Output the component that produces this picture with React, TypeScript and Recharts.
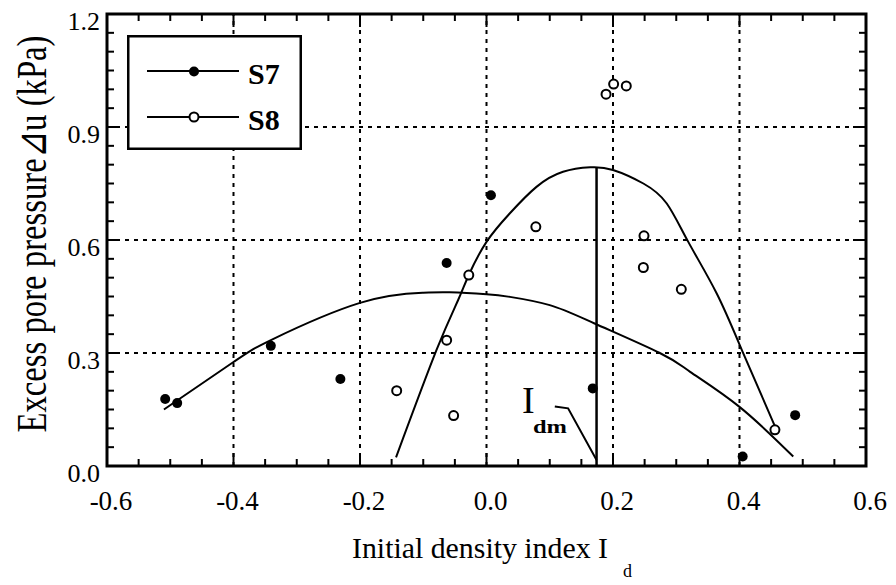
import {
  ComposedChart,
  Scatter,
  Line,
  XAxis,
  YAxis,
  ReferenceLine,
  ReferenceArea,
  ReferenceDot,
  Legend,
} from 'recharts'

// tick values (minor every 0.05, labelled majors picked in the tick renderers)
const xTicks = [
  -0.6, -0.55, -0.5, -0.45, -0.4, -0.35, -0.3, -0.25, -0.2, -0.15, -0.1, -0.05, 0, 0.05, 0.1,
  0.15, 0.2, 0.25, 0.3, 0.35, 0.4, 0.45, 0.5, 0.55, 0.6,
]
const yTicks = [
  0, 0.05, 0.1, 0.15, 0.2, 0.25, 0.3, 0.35, 0.4, 0.45, 0.5, 0.55, 0.6, 0.65, 0.7, 0.75, 0.8,
  0.85, 0.9, 0.95, 1.0, 1.05, 1.1, 1.15, 1.2,
]
const gridX = [-0.4, -0.2, 0, 0.2, 0.4]
const gridY = [0.3, 0.6, 0.9]

// S7 measured points
const s7X = [-0.508, -0.489, -0.341, -0.231, -0.063, 0.007, 0.168, 0.405, 0.488]
const s7Y = [0.178, 0.167, 0.319, 0.231, 0.539, 0.719, 0.206, 0.025, 0.135]

// S8 measured points
const s8X = [-0.142, -0.052, -0.063, -0.028, 0.078, 0.189, 0.201, 0.221, 0.249, 0.248, 0.308, 0.456]
const s8Y = [0.2, 0.134, 0.334, 0.507, 0.635, 0.987, 1.014, 1.009, 0.611, 0.527, 0.469, 0.096]

// fitted curves
const s7FitX = [-0.51, -0.4, -0.34, -0.2, -0.1, -0.058, 0.0, 0.037, 0.1, 0.17, 0.274, 0.322, 0.4, 0.485]
const s7FitY = [0.15, 0.276, 0.335, 0.433, 0.46, 0.461, 0.456, 0.449, 0.427, 0.379, 0.3, 0.25, 0.157, 0.025]

const s8FitX = [
  -0.143, -0.079, -0.045, -0.028, 0.0, 0.037, 0.079, 0.121, 0.164, 0.2, 0.248, 0.285, 0.319,
  0.364, 0.406, 0.46,
]
const s8FitY = [
  0.023, 0.308, 0.44, 0.507, 0.595, 0.671, 0.741, 0.781, 0.793, 0.786, 0.75, 0.697, 0.595,
  0.458, 0.299, 0.09,
]

// I_dm marker line and its leader
const idmX = [0.174, 0.174]
const idmY = [0, 0.793]
const leaderX = [0.108, 0.129, 0.174]
const leaderY = [0.158, 0.153, 0.016]

const zip = (xs: number[], ys: number[]) => xs.map((x, i) => ({ x, y: ys[i] }))

const s7Points = zip(s7X, s7Y)
const s8Points = zip(s8X, s8Y)
const s7Fit = zip(s7FitX, s7FitY)
const s8Fit = zip(s8FitX, s8FitY)
const idmLine = zip(idmX, idmY)
const leaderLine = zip(leaderX, leaderY)

const FONT = '"Liberation Serif", "Times New Roman", serif'
const PLOT_W = 759
const PLOT_H = 452

const isMajor = (v: number, step: number) => Math.abs(v / step - Math.round(v / step)) < 1e-6

function XTick(props: any) {
  const { x, y, payload } = props
  const v = payload.value as number
  const major = isMajor(v, 0.2)
  const len = major ? 13 : 7
  return (
    <g>
      <line x1={x} x2={x} y1={y} y2={y - len} stroke="#000" strokeWidth={2} />
      <line x1={x} x2={x} y1={y - PLOT_H} y2={y - PLOT_H + len} stroke="#000" strokeWidth={2} />
      {major && (
        <text x={x + 4} y={y + 44} textAnchor="middle" fontSize={27} fontFamily={FONT} fill="#000">
          {v.toFixed(1)}
        </text>
      )}
    </g>
  )
}

function YTick(props: any) {
  const { x, y, payload } = props
  const v = payload.value as number
  const major = isMajor(v, 0.3)
  const len = major ? 13 : 7
  return (
    <g>
      <line x1={x} x2={x + len} y1={y} y2={y} stroke="#000" strokeWidth={2} />
      <line x1={x + PLOT_W} x2={x + PLOT_W - len} y1={y} y2={y} stroke="#000" strokeWidth={2} />
      {major && (
        <text x={x - 7} y={y + 16} textAnchor="end" fontSize={26} fontFamily={FONT} fill="#000">
          {v.toFixed(1)}
        </text>
      )}
    </g>
  )
}

function XLabel() {
  return (
    <g fontFamily={FONT} fill="#000">
      <text x={352} y={558} fontSize={30} textLength={256} lengthAdjust="spacingAndGlyphs">
        Initial density index I
      </text>
      <text x={623} y={577} fontSize={18}>
        d
      </text>
    </g>
  )
}

function YLabel() {
  return (
    <text
      transform="translate(46, 234) rotate(-90) scale(1, 1.3)"
      textAnchor="middle"
      fontSize={33}
      fontFamily={FONT}
      fill="#000"
      textLength={397}
      lengthAdjust="spacingAndGlyphs"
    >
      Excess pore pressure⊿u (kPa)
    </text>
  )
}

function LegendBox() {
  return (
    <svg width={175} height={115} style={{ display: 'block' }}>
      <rect x={1.25} y={1.25} width={172.5} height={112.5} fill="#fff" stroke="#000" strokeWidth={2.5} />
      <line x1={20} x2={112} y1={36} y2={36} stroke="#000" strokeWidth={2} />
      <circle cx={67} cy={36.5} r={5} fill="#000" />
      <text x={121} y={49} fontSize={30} fontWeight="bold" fontFamily={FONT}>
        S7
      </text>
      <line x1={20} x2={112} y1={82} y2={82} stroke="#000" strokeWidth={2} />
      <circle cx={67} cy={82} r={4.5} fill="#fff" stroke="#000" strokeWidth={2} />
      <text x={121} y={95} fontSize={30} fontWeight="bold" fontFamily={FONT}>
        S8
      </text>
    </svg>
  )
}

function IdmLabel(props: any) {
  const { cx, cy } = props
  return (
    <g fontFamily={FONT} fill="#000">
      <text x={cx} y={cy} fontSize={38}>
        I
      </text>
      <text x={cx + 11} y={cy + 20} fontSize={18} fontWeight="bold" textLength={34} lengthAdjust="spacingAndGlyphs">
        dm
      </text>
    </g>
  )
}

export default function App() {
  return (
    <div style={{ position: 'absolute', left: 0, top: 0, background: '#fff' }}>
      <ComposedChart width={896} height={585} margin={{ top: 14, right: 30, bottom: 0, left: 0 }}>
        {gridX.map(v => (
          <ReferenceLine key={`gx${v}`} x={v} stroke="#000" strokeWidth={2} strokeDasharray="4 5" />
        ))}
        {gridY.map(v => (
          <ReferenceLine key={`gy${v}`} y={v} stroke="#000" strokeWidth={2} strokeDasharray="4 5" />
        ))}
        <ReferenceArea x1={-0.6} x2={0.6} y1={0} y2={1.2} fill="none" stroke="#000" strokeWidth={3} />
        <XAxis
          type="number"
          dataKey="x"
          domain={[-0.6, 0.6]}
          ticks={xTicks}
          interval={0}
          tickLine={false}
          axisLine={false}
          tickSize={0}
          tickMargin={0}
          tick={XTick}
          height={119}
          allowDataOverflow
          label={XLabel}
        />
        <YAxis
          type="number"
          dataKey="y"
          domain={[0, 1.2]}
          ticks={yTicks}
          interval={0}
          tickLine={false}
          axisLine={false}
          tickSize={0}
          tickMargin={0}
          tick={YTick}
          width={107}
          allowDataOverflow
          label={YLabel}
        />
        <Line data={s7Fit} dataKey="y" type="natural" stroke="#000" strokeWidth={2} dot={false} isAnimationActive={false} />
        <Line data={s8Fit} dataKey="y" type="natural" stroke="#000" strokeWidth={2} dot={false} isAnimationActive={false} />
        <Line data={idmLine} dataKey="y" type="linear" stroke="#000" strokeWidth={2.5} dot={false} isAnimationActive={false} />
        <Line data={leaderLine} dataKey="y" type="linear" stroke="#000" strokeWidth={2} dot={false} isAnimationActive={false} />
        <Scatter
          data={s7Points}
          isAnimationActive={false}
          shape={(p: any) => <circle cx={p.cx} cy={p.cy} r={5} fill="#000" />}
        />
        <Scatter
          data={s8Points}
          isAnimationActive={false}
          shape={(p: any) => <circle cx={p.cx} cy={p.cy} r={4.5} fill="#fff" stroke="#000" strokeWidth={2} />}
        />
        <ReferenceDot x={0.056} y={0.141} r={0} shape={IdmLabel} />
        <Legend
          layout="vertical"
          align="center"
          verticalAlign="middle"
          wrapperStyle={{ left: 127, top: 35, width: 175, height: 115 }}
          content={() => <LegendBox />}
        />
      </ComposedChart>
    </div>
  )
}
